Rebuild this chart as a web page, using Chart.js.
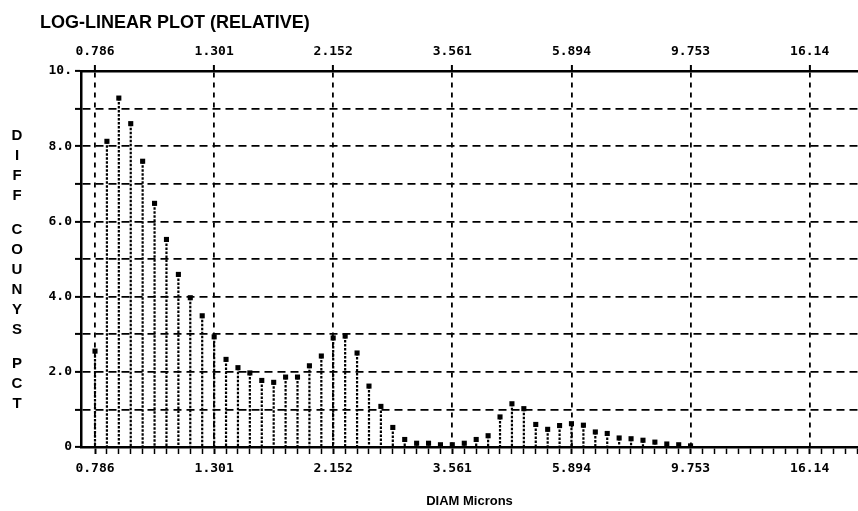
<!DOCTYPE html>
<html>
<head>
<meta charset="utf-8">
<script src="https://cdn.jsdelivr.net/npm/chart.js@4.4.0/dist/chart.umd.min.js"></script>
<style>
  html, body { margin: 0; padding: 0; background: #fff; overflow: hidden; }
  #wrap { width: 858px; height: 511px; }
</style>
</head>
<body>
<div id="wrap"><canvas id="sizeChart"></canvas></div>
<script>
// channel diameters (microns), 10 channels per labelled step
const diam = [
  0.786, 0.8266, 0.8693, 0.9142, 0.9614, 1.0111, 1.0633, 1.1183, 1.1760, 1.2368,
  1.301, 1.3679, 1.4386, 1.5129, 1.5911, 1.6733, 1.7597, 1.8506, 1.9462, 2.0468,
  2.152, 2.2637, 2.3807, 2.5037, 2.6330, 2.7691, 2.9121, 3.0626, 3.2208, 3.3872,
  3.561, 3.7463, 3.9398, 4.1434, 4.3575, 4.5826, 4.8193, 5.0683, 5.3302, 5.6056,
  5.894, 6.1998, 6.5201, 6.8570, 7.2113, 7.5838, 7.9757, 8.3877, 8.8211, 9.2769,
  9.753
];
// differential counts (%)
const diffCount = [
  2.55, 8.13, 9.28, 8.60, 7.60, 6.48, 5.52, 4.59, 3.97, 3.49,
  2.93, 2.33, 2.11, 1.97, 1.77, 1.72, 1.86, 1.86, 2.16, 2.42,
  2.90, 2.95, 2.50, 1.62, 1.08, 0.52, 0.20, 0.10, 0.10, 0.06,
  0.06, 0.10, 0.20, 0.30, 0.80, 1.15, 1.02, 0.60, 0.47, 0.57,
  0.62, 0.58, 0.40, 0.36, 0.24, 0.22, 0.18, 0.13, 0.08, 0.06,
  0.03
];
const xTickLabels = ['0.786', '1.301', '2.152', '3.561', '5.894', '9.753', '16.14'];
const yTickLabels = ['0', '2.0', '4.0', '6.0', '8.0', '10.'];
const yTitleWords = ['DIFF', 'COUNYS', 'PCT'];
const chartTitle = 'LOG-LINEAR PLOT (RELATIVE)';
const xTitle = 'DIAM Microns';

const X_MIN = 0.7408;
const X_MAX = 19.8;

const monoFont = { family: '"DejaVu Sans Mono", monospace', size: 13, weight: 'bold' };

// major ticks with 10 log steps in between (minor marks on the lower axis)
function buildXTicks(withMinor) {
  const majors = xTickLabels.map(Number);
  const out = [];
  for (let m = 0; m < majors.length; m++) {
    const next = m < majors.length - 1 ? majors[m + 1] : majors[m] * majors[m] / majors[m - 1];
    const step = Math.pow(next / majors[m], 0.1);
    for (let k = 0; k < 10; k++) {
      const v = majors[m] * Math.pow(step, k);
      if (v > X_MAX) break;
      if (k > 0 && !withMinor) break;
      out.push({ value: v, isMajor: k === 0, lbl: k === 0 ? xTickLabels[m] : '' });
    }
  }
  return out;
}

// keep the plot running right to the edge of the canvas
function fitX(height) {
  return scale => {
    scale.height = height;
    scale.paddingLeft = 0;
    scale.paddingRight = 0;
  };
}

// dotted drop line from each point down to zero
const dropLines = {
  id: 'dropLines',
  beforeDatasetsDraw(chart) {
    const { ctx, scales: { y } } = chart;
    const meta = chart.getDatasetMeta(0);
    const y0 = y.getPixelForValue(0);
    ctx.save();
    ctx.strokeStyle = '#000';
    ctx.lineWidth = 2.2;
    ctx.setLineDash([2.5, 1.5]);
    meta.data.forEach(pt => {
      ctx.beginPath();
      ctx.moveTo(pt.x, pt.y);
      ctx.lineTo(pt.x, y0);
      ctx.stroke();
    });
    ctx.restore();
  }
};

// main title and the stacked letters of the y title
const textLabels = {
  id: 'textLabels',
  afterDraw(chart) {
    const ctx = chart.ctx;
    ctx.save();
    ctx.fillStyle = '#000';
    ctx.font = 'bold 18px "Liberation Sans", Arial, sans-serif';
    ctx.textAlign = 'left';
    ctx.textBaseline = 'alphabetic';
    ctx.fillText(chartTitle, 40, 28);

    ctx.font = 'bold 15px "Liberation Sans", Arial, sans-serif';
    ctx.textAlign = 'center';
    ctx.textBaseline = 'middle';
    let yPos = 136;
    yTitleWords.forEach((w, wi) => {
      if (wi) yPos += 14;
      for (const ch of w) {
        ctx.fillText(ch, 17, yPos);
        yPos += 20;
      }
    });
    ctx.restore();
  }
};

const ctx = document.getElementById('sizeChart').getContext('2d');
const sizeChart = new Chart(ctx, {
  type: 'scatter',
  data: {
    datasets: [{
      data: diam.map((d, i) => ({ x: d, y: diffCount[i] })),
      xAxisID: 'x',
      yAxisID: 'y',
      showLine: false,
      pointStyle: 'rect',
      pointRadius: 3.6,
      pointBackgroundColor: '#000',
      pointBorderWidth: 0
    }]
  },
  options: {
    responsive: true,
    maintainAspectRatio: false,
    animation: false,
    layout: { autoPadding: false, padding: { top: 30, left: 0, right: 0, bottom: 0 } },
    plugins: {
      legend: { display: false },
      tooltip: { enabled: false }
    },
    scales: {
      x: {
        type: 'logarithmic',
        position: 'bottom',
        bounds: 'data',
        min: X_MIN,
        max: X_MAX,
        afterBuildTicks: scale => { scale.ticks = buildXTicks(true); },
        afterFit: fitX(64),
        ticks: {
          autoSkip: false,
          maxRotation: 0,
          padding: 7,
          color: '#000',
          font: monoFont,
          callback: (value, index, ticks) => ticks[index].lbl
        },
        grid: {
          drawOnChartArea: false,
          drawTicks: true,
          tickLength: 7,
          tickColor: '#000',
          tickWidth: c => (c.tick && c.tick.isMajor ? 2 : 1.5)
        },
        border: { display: true, color: '#000', width: 2.5 },
        title: {
          display: true,
          text: xTitle,
          color: '#000',
          font: { family: '"Liberation Sans", Arial, sans-serif', size: 13, weight: 'bold' },
          padding: { top: 0, bottom: 2 }
        }
      },
      x2: {
        type: 'logarithmic',
        position: 'top',
        bounds: 'data',
        min: X_MIN,
        max: X_MAX,
        afterBuildTicks: scale => { scale.ticks = buildXTicks(false); },
        afterFit: fitX(41),
        ticks: {
          autoSkip: false,
          maxRotation: 0,
          padding: 6,
          color: '#000',
          font: monoFont,
          callback: (value, index, ticks) => ticks[index].lbl
        },
        grid: {
          drawOnChartArea: true,
          color: '#000',
          lineWidth: 1.8,
          tickLength: 6,
          tickColor: '#000',
          tickWidth: 2,
          tickBorderDash: []
        },
        border: { display: true, color: '#000', width: 2.5, dash: [5, 5] }
      },
      y: {
        type: 'linear',
        position: 'left',
        min: 0,
        max: 10,
        afterFit: scale => { scale.width = 81; },
        ticks: {
          stepSize: 1,
          autoSkip: false,
          padding: 3,
          color: '#000',
          font: monoFont,
          callback: value => (value % 2 === 0 ? yTickLabels[value / 2] : '')
        },
        grid: {
          color: '#000',
          lineWidth: 1.8,
          tickLength: 6,
          tickColor: '#000',
          tickWidth: 2,
          tickBorderDash: []
        },
        border: { display: true, color: '#000', width: 2.5, dash: [8, 5] }
      }
    }
  },
  plugins: [dropLines, textLabels]
});
</script>
</body>
</html>
